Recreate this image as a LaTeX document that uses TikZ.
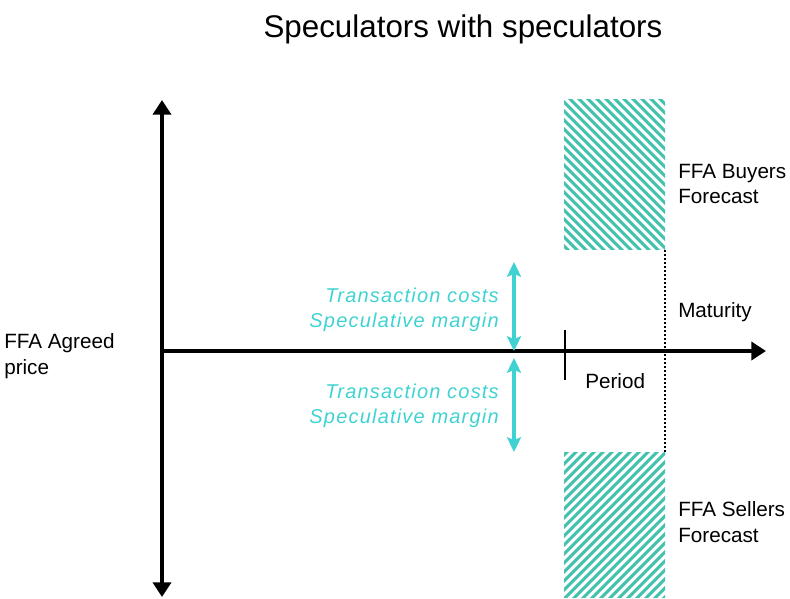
\documentclass[tikz,border=0pt]{standalone}
\usepackage{fontspec}
\setmainfont{Liberation Sans}
\newfontfamily\spacedfont[LetterSpace=6]{Liberation Sans}
\usetikzlibrary{arrows.meta,positioning}
\definecolor{hatchteal}{RGB}{66,194,174}
\definecolor{margincyan}{RGB}{64,210,210}

\begin{document}
\begin{tikzpicture}[
        x=0.75pt, y=-0.75pt,
        axis/.style={line width=3pt, -{Triangle[length=11pt,width=13.5pt]}},
        marginarrow/.style={line width=3.2pt, margincyan, {Stealth[length=11pt,width=10.5pt,inset=2pt]}-{Stealth[length=11pt,width=10.5pt,inset=2pt]}},
        hatch/.style={line width=2.3pt, hatchteal},
        caption/.style={font=\fontsize{15.5}{19}\selectfont, inner sep=0pt, align=left},
        marginlabel/.style={font=\spacedfont\itshape\fontsize{15}{19}\selectfont, text=margincyan, inner sep=0pt, align=right}
    ]
    \useasboundingbox (0,0) rectangle (790,599);

    % Title
    \node[font=\fontsize{23.5}{28}\selectfont] (title) at (463,29) {Speculators with speculators};

    % Axes
    \coordinate (origin) at (162,351);
    \coordinate (ytop) at (162,100);
    \coordinate (ybottom) at (162,597);
    \coordinate (xend) at (766,351);
    \draw[axis] (origin) -- (ytop);
    \draw[axis] (origin) -- (ybottom);
    \draw[axis] (origin) -- (xend);

    % Period tick and maturity line
    \coordinate (ticktop) at (565,330);
    \coordinate (tickbottom) at (565,380);
    \draw[line width=1.5pt] (ticktop) -- (tickbottom);
    \coordinate (matuptop) at (665,250);
    \coordinate (matbottom) at (665,452);
    \draw[line width=2pt, dash pattern=on 1.5pt off 1.5pt] (matuptop) -- (matbottom);

    % Forecast areas
    \begin{scope}
        \clip (564,100) rectangle (665,250);
        \foreach \c in {-570,-561,...,-300}
            \draw[hatch] (560,560+\c) -- (670,670+\c);
    \end{scope}
    \begin{scope}
        \clip (564,452) rectangle (665,597);
        \foreach \c in {1010,1019,...,1270}
            \draw[hatch] (560,\c-560) -- (670,\c-670);
    \end{scope}

    % Margins
    \coordinate (upmargin) at (514,262);
    \coordinate (downmargin) at (514,452);
    \coordinate (lowstart) at (514,358);
    \draw[marginarrow] (upmargin) -- (origin -| upmargin);
    \draw[marginarrow] (lowstart) -- (downmargin);
    \node[marginlabel, anchor=east] (uptext) at (499,310) {Transaction costs\\Speculative margin};
    \node[marginlabel, anchor=east] (downtext) at (499,406) {Transaction costs\\Speculative margin};

    % Labels
    \node[caption, anchor=west] (agreed) at (4,356) {FFA Agreed\\price};
    \node[caption, anchor=west] (buyers) at (678,184) {FFA Buyers\\Forecast};
    \node[caption, anchor=west] (sellers) at (678,522) {FFA Sellers\\Forecast};
    \node[caption, anchor=west] (maturity) at (678,312) {Maturity};
    \node[caption, anchor=west] (period) at (585,381) {Period};

\end{tikzpicture}
\end{document}
